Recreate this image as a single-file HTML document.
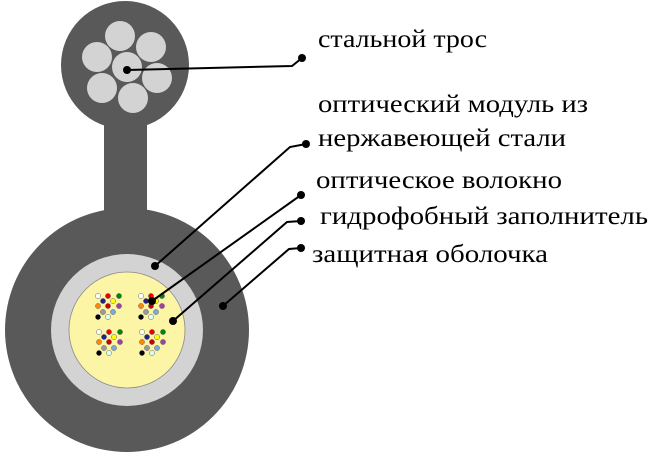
<!DOCTYPE html>
<html><head><meta charset="utf-8"><style>
html,body{margin:0;padding:0;background:#fff;}
svg{display:block;}
text{font-family:"Liberation Serif",serif;font-size:25px;fill:#000;}
</style></head><body>
<svg width="671" height="456" viewBox="0 0 671 456" xmlns="http://www.w3.org/2000/svg">
<rect x="104" y="100" width="43" height="130" fill="#595959"/>
<circle cx="125" cy="65" r="64" fill="#595959"/>
<circle cx="127" cy="330" r="122" fill="#595959"/>
<circle cx="127" cy="330" r="76" fill="#d3d3d3"/>
<circle cx="127" cy="330" r="58" fill="#fdf5a6" stroke="#888" stroke-width="0.8"/>
<g fill="#d3d3d3">
<circle cx="120" cy="36" r="15"/><circle cx="151" cy="47" r="15"/><circle cx="97" cy="57" r="15"/>
<circle cx="157" cy="78" r="15"/><circle cx="102" cy="88" r="15"/><circle cx="133" cy="98" r="15"/>
<circle cx="127" cy="67" r="15"/>
</g>
<defs>
<g id="f" stroke="#666" stroke-width="0.5">
<circle cx="0" cy="0" r="2.6" fill="#fff"/><circle cx="10" cy="0" r="2.6" fill="#e00"/><circle cx="21" cy="0" r="2.6" fill="#080"/>
<circle cx="5" cy="5" r="2.6" fill="#22208a"/><circle cx="15" cy="5" r="2.6" fill="#ff0"/>
<circle cx="0" cy="10" r="2.6" fill="#f80"/><circle cx="10" cy="10" r="2.6" fill="#c00"/><circle cx="21" cy="10" r="2.6" fill="#a040a0"/>
<circle cx="5" cy="16" r="2.6" fill="#999"/><circle cx="15" cy="16" r="2.6" fill="#7ad"/>
<circle cx="0" cy="21" r="2.6" fill="#000"/><circle cx="10" cy="21" r="2.6" fill="#dfe"/>
</g>
</defs>
<use href="#f" x="98" y="296"/><use href="#f" x="141" y="296"/>
<use href="#f" x="99" y="332"/><use href="#f" x="142" y="332"/>
<g stroke="#000" stroke-width="2" fill="none">
<polyline points="127,70 292,66 302,58"/>
<polyline points="155,266 290,147 306,144"/>
<polyline points="152,301 301,195"/>
<polyline points="173,321 287,222 301,221"/>
<polyline points="223,306 289,249 301,248"/>
</g>
<g fill="#000">
<circle cx="127" cy="70" r="4"/><circle cx="302" cy="58" r="4"/>
<circle cx="155" cy="266" r="4"/><circle cx="306" cy="144" r="4"/>
<circle cx="152" cy="301" r="4"/><circle cx="301" cy="195" r="4"/>
<circle cx="173" cy="321" r="4"/><circle cx="301" cy="221" r="4"/>
<circle cx="223" cy="306" r="4"/><circle cx="301" cy="248" r="4"/>
</g>
<text x="318" y="47" textLength="169" lengthAdjust="spacingAndGlyphs">стальной трос</text>
<text x="318" y="112" textLength="270" lengthAdjust="spacingAndGlyphs">оптический модуль из</text>
<text x="318" y="146" textLength="248" lengthAdjust="spacingAndGlyphs">нержавеющей стали</text>
<text x="316" y="188" textLength="246" lengthAdjust="spacingAndGlyphs">оптическое волокно</text>
<text x="320" y="224" textLength="328" lengthAdjust="spacingAndGlyphs">гидрофобный заполнитель</text>
<text x="312" y="262" textLength="236" lengthAdjust="spacingAndGlyphs">защитная оболочка</text>
</svg>
</body></html>
